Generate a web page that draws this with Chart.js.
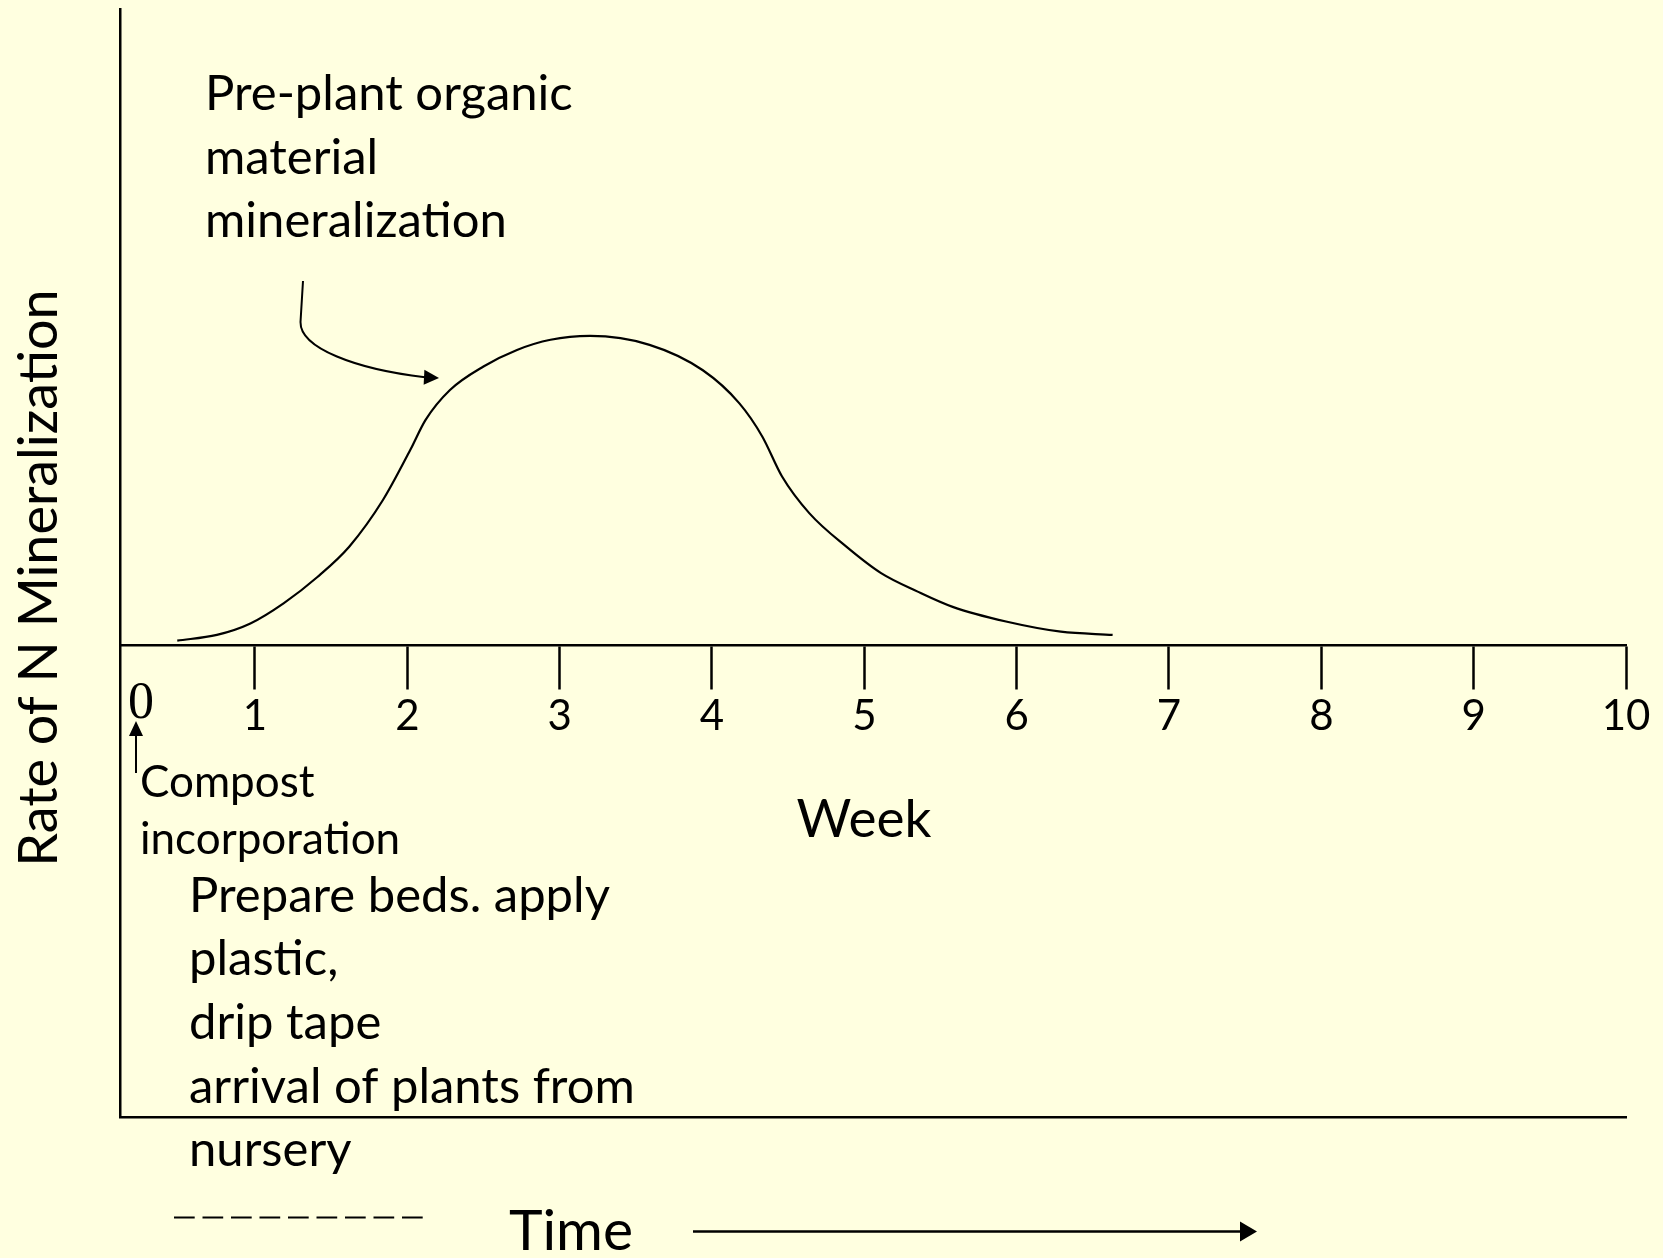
<!DOCTYPE html>
<html>
<head>
<meta charset="utf-8">
<script src="https://cdn.jsdelivr.net/npm/chart.js@4/dist/chart.umd.min.js"></script>
<style>
html,body{margin:0;padding:0;background:#FFFFE0;}
#wrap{width:1663px;height:1258px;position:relative;}
canvas{display:block;}
</style>
</head>
<body>
<div id="wrap"><canvas id="c" width="1663" height="1258"></canvas></div>
<script>
// ---- data ----
const weeks = [0.49,0.75,0.97,1.19,1.41,1.62,1.84,2.02,2.12,2.28,2.50,2.72,2.94,3.20,3.59,3.94,4.18,4.33,4.46,4.64,4.88,5.11,5.35,5.58,5.93,6.29,6.63];
const rates = [0.07,0.16,0.34,0.66,1.07,1.55,2.28,3.07,3.54,4.01,4.38,4.64,4.80,4.86,4.72,4.32,3.80,3.28,2.65,2.07,1.55,1.13,0.84,0.60,0.37,0.21,0.16];
const weekTicks = [1,2,3,4,5,6,7,8,9,10];
const zeroLabel = '0';
const yTitle = 'Rate of N Mineralization';
const xTitle = 'Week';
const timeLabel = 'Time';
const curveLabel = ['Pre-plant organic','material','mineralization'];
const compostLabel = ['Compost','incorporation'];
const prepLabel = ['Prepare beds. apply','plastic,','drip tape','arrival of plants from','nursery'];

const BG = '#FFFFE0';
const INK = '#000000';

function arrowHead(ctx, tx, ty, dx, dy, len, half) {
  const n = Math.hypot(dx, dy); dx /= n; dy /= n;
  const bx = tx - dx * len, by = ty - dy * len;
  const px = -dy, py = dx;
  ctx.beginPath();
  ctx.moveTo(tx, ty);
  ctx.lineTo(bx + px * half, by + py * half);
  ctx.lineTo(bx - px * half, by - py * half);
  ctx.closePath();
  ctx.fill();
}

const annot = {
  id: 'annot',
  beforeDraw(chart) {
    const c = chart.ctx;
    c.save();
    c.fillStyle = BG;
    c.fillRect(0, 0, chart.width, chart.height);
    c.restore();
  },
  afterDraw(chart) {
    const ctx = chart.ctx;
    ctx.save();
    ctx.fillStyle = INK;
    ctx.strokeStyle = INK;
    ctx.textBaseline = 'alphabetic';

    // y-axis title
    ctx.save();
    ctx.translate(57, 578);
    ctx.rotate(-Math.PI / 2);
    ctx.textAlign = 'center';
    ctx.font = '54px Lato';
    ctx.fillText(yTitle, 0, 0);
    ctx.restore();

    // "0" label
    ctx.textAlign = 'center';
    ctx.font = '52px "Liberation Serif"';
    ctx.fillText(zeroLabel, 141, 718);

    // Week
    ctx.font = '53px Lato';
    ctx.fillText(xTitle, 864, 837);

    // Time
    ctx.font = '57px Lato';
    ctx.fillText(timeLabel, 571, 1250);

    // curve label
    ctx.textAlign = 'left';
    ctx.font = '49px Lato';
    curveLabel.forEach((t, i) => ctx.fillText(t, 205, 110 + i * 63.6));

    // compost label
    ctx.font = '44px Lato';
    compostLabel.forEach((t, i) => ctx.fillText(t, 140, 797 + i * 57));

    // prep label
    ctx.font = '49px Lato';
    prepLabel.forEach((t, i) => ctx.fillText(t, 189, 911.7 + i * 63.6));

    // curved pointer arrow
    ctx.lineWidth = 2;
    ctx.beginPath();
    ctx.moveTo(303, 281);
    ctx.lineTo(300.5, 322);
    ctx.bezierCurveTo(300, 348, 355, 369, 425, 377.3);
    ctx.stroke();
    arrowHead(ctx, 439, 378, 1, 0.05, 15, 7.5);

    // compost arrow
    ctx.beginPath();
    ctx.moveTo(136, 773);
    ctx.lineTo(136, 735);
    ctx.stroke();
    arrowHead(ctx, 136, 721, 0, -1, 15, 7);

    // time arrow
    ctx.lineWidth = 2.5;
    ctx.beginPath();
    ctx.moveTo(693, 1231.5);
    ctx.lineTo(1242, 1231.5);
    ctx.stroke();
    arrowHead(ctx, 1257, 1231.5, 1, 0, 17, 10);

    // dashed line
    ctx.lineWidth = 2;
    ctx.setLineDash([20.7, 7.8]);
    ctx.beginPath();
    ctx.moveTo(174, 1217.5);
    ctx.lineTo(425, 1217.5);
    ctx.stroke();
    ctx.setLineDash([]);

    ctx.restore();
  }
};

new Chart(document.getElementById('c'), {
  type: 'line',
  data: {
    datasets: [{
      data: weeks.map((w, i) => ({ x: w, y: rates[i] })),
      borderColor: INK,
      borderWidth: 2.2,
      pointRadius: 0,
      cubicInterpolationMode: 'monotone',
      fill: false,
      xAxisID: 'x',
      yAxisID: 'y'
    }]
  },
  options: {
    responsive: false,
    animation: false,
    devicePixelRatio: 1,
    events: [],
    layout: { padding: { left: 120, right: 37, top: 9, bottom: 141 } },
    plugins: { legend: { display: false }, tooltip: { enabled: false }, title: { display: false } },
    scales: {
      x: {
        type: 'linear',
        min: 0.114,
        max: 10,
        position: { y: 0 },
        afterBuildTicks: (s) => { s.ticks = weekTicks.map(v => ({ value: v })); },
        grid: { drawOnChartArea: false, drawTicks: true, tickLength: 43, tickWidth: 2.5, tickColor: INK },
        border: { display: true, color: INK, width: 2.5 },
        ticks: { color: INK, font: { family: 'Lato', size: 42 }, padding: 3, maxRotation: 0, autoSkip: false }
      },
      x2: {
        type: 'linear',
        position: 'bottom',
        ticks: { display: false },
        grid: { drawOnChartArea: false, drawTicks: false },
        border: { display: true, color: INK, width: 2.5 }
      },
      y: {
        type: 'linear',
        min: -7.42,
        max: 10,
        position: 'left',
        ticks: { display: false },
        grid: { drawOnChartArea: false, drawTicks: false },
        border: { display: true, color: INK, width: 2.5 }
      }
    }
  },
  plugins: [annot]
});
</script>
</body>
</html>
